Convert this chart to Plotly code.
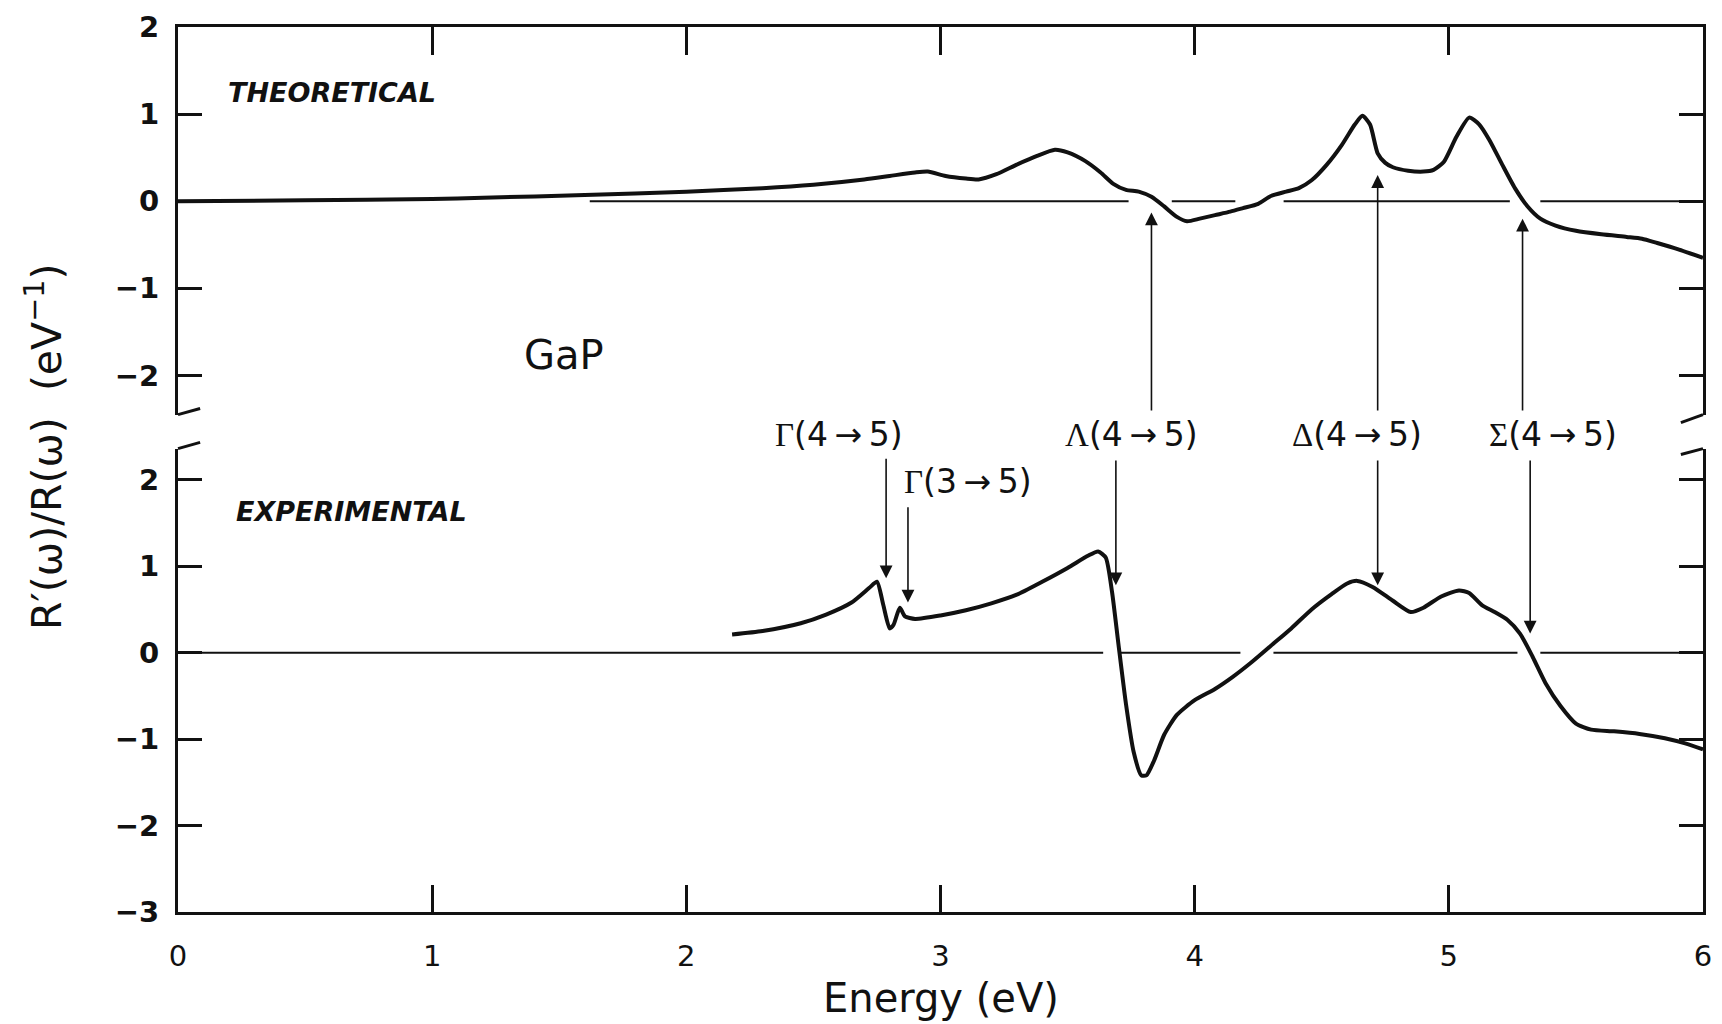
import plotly.graph_objects as go

# ---------------- data ----------------
theo_energy = [0.0, 0.5, 1.0, 1.2, 1.6, 2.0, 2.3, 2.5, 2.7, 2.8, 2.9, 2.95, 3.02, 3.1, 3.15,
               3.22, 3.3, 3.38, 3.45, 3.5, 3.57, 3.63, 3.68, 3.73, 3.78, 3.83, 3.88, 3.93,
               3.97, 4.02, 4.08, 4.14, 4.19, 4.25, 4.30, 4.36, 4.41, 4.46, 4.52, 4.58, 4.63,
               4.66, 4.69, 4.72, 4.75, 4.78, 4.84, 4.90, 4.94, 4.98, 5.03, 5.08, 5.12, 5.16,
               5.21, 5.26, 5.31, 5.36, 5.42, 5.50, 5.60, 5.70, 5.76, 5.82, 5.90, 6.0]
theo_value = [0.0, 0.01, 0.025, 0.04, 0.07, 0.11, 0.15, 0.19, 0.25, 0.29, 0.33, 0.34, 0.29,
              0.26, 0.25, 0.31, 0.42, 0.52, 0.59, 0.56, 0.46, 0.33, 0.2, 0.13, 0.11, 0.05,
              -0.06, -0.18, -0.23, -0.2, -0.16, -0.12, -0.08, -0.03, 0.06, 0.11, 0.15, 0.24,
              0.42, 0.65, 0.88, 0.98, 0.88, 0.55, 0.44, 0.39, 0.35, 0.34, 0.36, 0.45, 0.74,
              0.96, 0.88, 0.70, 0.42, 0.15, -0.06, -0.2, -0.28, -0.34, -0.38, -0.41, -0.43,
              -0.48, -0.55, -0.65]

exp_energy = [2.18, 2.3, 2.45, 2.55, 2.65, 2.72, 2.75, 2.775, 2.80, 2.815, 2.84, 2.86, 2.9,
              3.0, 3.1, 3.2, 3.3, 3.4, 3.5, 3.58, 3.62, 3.65, 3.675, 3.70, 3.73, 3.76, 3.79,
              3.81, 3.84, 3.88, 3.93, 4.0, 4.08, 4.15, 4.22, 4.3, 4.38, 4.46, 4.54, 4.6, 4.64,
              4.7, 4.78, 4.85, 4.9, 4.97, 5.04, 5.08, 5.13, 5.18, 5.23, 5.28, 5.33, 5.38,
              5.44, 5.5, 5.56, 5.65, 5.75, 5.85, 5.93, 6.0]
exp_value = [0.21, 0.25, 0.34, 0.44, 0.58, 0.75, 0.82, 0.55, 0.28, 0.32, 0.52, 0.42, 0.39,
             0.43, 0.49, 0.57, 0.67, 0.82, 0.98, 1.12, 1.17, 1.10, 0.7, 0.1, -0.6, -1.15,
             -1.42, -1.42, -1.25, -0.95, -0.72, -0.55, -0.42, -0.28, -0.12, 0.08, 0.28, 0.5,
             0.68, 0.8, 0.83, 0.76, 0.6, 0.47, 0.52, 0.65, 0.72, 0.69, 0.55, 0.47, 0.38, 0.22,
             -0.05, -0.35, -0.62, -0.82, -0.89, -0.91, -0.94, -0.99, -1.05, -1.12]

# zero reference line segments (start, end) in eV
theo_zero_segments = [(1.62, 3.74), (3.91, 4.16), (4.35, 5.24), (5.36, 6.0)]
exp_zero_segments = [(0.0, 3.64), (3.71, 4.18), (4.31, 5.27), (5.36, 6.0)]

# transitions: label, label energy, label level, arrow energy, head level (exp), tail level
exp_labels = ["Γ|(4→5)", "Γ|(3→5)", "Λ|(4→5)", "Δ|(4→5)", "Σ|(4→5)"]
exp_label_energy = [2.60, 3.11, 3.75, 4.64, 5.41]
exp_label_level = [2.52, 1.98, 2.52, 2.52, 2.52]
exp_arrow_energy = [2.786, 2.872, 3.69, 4.72, 5.32]
exp_arrow_head = [0.86, 0.58, 0.78, 0.78, 0.22]
exp_arrow_tail = [2.26, 1.70, 2.24, 2.24, 2.24]

theo_arrow_energy = [3.83, 4.72, 5.29]
theo_arrow_head = [-0.13, 0.30, -0.20]
theo_arrow_tail = [-2.42, -2.42, -2.42]

x_ticks = [0, 1, 2, 3, 4, 5, 6]
top_y_ticks = [-2, -1, 0, 1, 2]
bot_y_ticks = [-3, -2, -1, 0, 1, 2]

# ---------------- figure ----------------
INK = "#111111"
FONT = "DejaVu Sans"
TOP_DOMAIN = [0.562, 1.0]
TOP_RANGE = [-2.45, 2.0]
BOT_DOMAIN = [0.0, 0.5236]
BOT_RANGE = [-3.0, 2.36]


def tick_text(vals):
    return [("−" + str(-v)) if v < 0 else str(v) for v in vals]


def segs(segments):
    xs, ys = [], []
    for a, b in segments:
        xs += [a, b, None]
        ys += [0, 0, None]
    return xs, ys


def bot_to_paper(v):
    return BOT_DOMAIN[0] + (v - BOT_RANGE[0]) / (BOT_RANGE[1] - BOT_RANGE[0]) * (BOT_DOMAIN[1] - BOT_DOMAIN[0])


fig = go.Figure()

zx, zy = segs(theo_zero_segments)
fig.add_trace(go.Scatter(x=zx, y=zy, xaxis="x2", yaxis="y", mode="lines",
                         line=dict(color=INK, width=2), hoverinfo="skip"))
zx, zy = segs(exp_zero_segments)
fig.add_trace(go.Scatter(x=zx, y=zy, xaxis="x", yaxis="y2", mode="lines",
                         line=dict(color=INK, width=2), hoverinfo="skip"))

fig.add_trace(go.Scatter(x=theo_energy, y=theo_value, xaxis="x2", yaxis="y", mode="lines",
                         line=dict(color=INK, width=4, shape="spline", smoothing=0.6)))
fig.add_trace(go.Scatter(x=exp_energy, y=exp_value, xaxis="x", yaxis="y2", mode="lines",
                         line=dict(color=INK, width=4, shape="spline", smoothing=0.6)))

annotations = []
for lab, le, ll in zip(exp_labels, exp_label_energy, exp_label_level):
    g, rest = lab.split("|")
    rest = rest.replace("→", "\u2009→\u2009")
    annotations.append(dict(
        x=le, y=bot_to_paper(ll), xref="x", yref="paper", showarrow=False,
        text='<span style="font-family:Liberation Serif">' + g + "</span>" + rest,
        font=dict(family=FONT, size=33, color=INK), xanchor="center", yanchor="middle"))

for e, h, t in zip(exp_arrow_energy, exp_arrow_head, exp_arrow_tail):
    annotations.append(dict(x=e, y=h, ax=e, ay=t, xref="x", yref="y2", axref="x", ayref="y2",
                            showarrow=True, arrowhead=2, arrowsize=1.6, arrowwidth=1.6,
                            arrowcolor=INK, text=""))
for e, h, t in zip(theo_arrow_energy, theo_arrow_head, theo_arrow_tail):
    annotations.append(dict(x=e, y=h, ax=e, ay=t, xref="x2", yref="y", axref="x2", ayref="y",
                            showarrow=True, arrowhead=2, arrowsize=1.6, arrowwidth=1.6,
                            arrowcolor=INK, text=""))

annotations += [
    dict(x=0.19, y=1.25, xref="x2", yref="y", text="<i>THEORETICAL</i>", showarrow=False,
         xanchor="left", yanchor="middle",
         font=dict(family=FONT, size=27, color=INK, weight="bold")),
    dict(x=0.22, y=1.63, xref="x", yref="y2", text="<i>EXPERIMENTAL</i>", showarrow=False,
         xanchor="left", yanchor="middle",
         font=dict(family=FONT, size=27, color=INK, weight="bold")),
    dict(x=1.52, y=-1.76, xref="x2", yref="y", text="GaP", showarrow=False,
         xanchor="center", yanchor="middle", font=dict(family=FONT, size=40, color=INK)),
    dict(x=-0.0875, y=0.525, xref="paper", yref="paper", textangle=-90, showarrow=False,
         text="R′(ω)/R(ω)\u00a0\u00a0(eV<sup>−1</sup>)",
         xanchor="center", yanchor="middle", font=dict(family=FONT, size=41, color=INK)),
    dict(x=0.5, y=-0.097, xref="paper", yref="paper", text="Energy (eV)", showarrow=False,
         xanchor="center", yanchor="middle", font=dict(family=FONT, size=40, color=INK)),
]

# axis-break slashes (paper coordinates)
sl_w = 0.0145
slashes = [
    (0.0, TOP_DOMAIN[0], sl_w, TOP_DOMAIN[0] + 0.007),
    (0.0, BOT_DOMAIN[1], sl_w, BOT_DOMAIN[1] + 0.007),
    (1 - sl_w, TOP_DOMAIN[0] - 0.009, 1.0, TOP_DOMAIN[0]),
    (1 - sl_w, BOT_DOMAIN[1] - 0.0066, 1.0, BOT_DOMAIN[1]),
]
shapes = [dict(type="line", xref="paper", yref="paper", x0=a, y0=b, x1=c, y1=d,
               line=dict(color=INK, width=3)) for a, b, c, d in slashes]

axis_common = dict(showgrid=False, zeroline=False, showline=True, linecolor=INK,
                   linewidth=3, ticks="inside", tickcolor=INK, tickwidth=2.5)

fig.update_layout(
    width=1722, height=1024,
    margin=dict(l=178, r=10, t=24, b=112),
    paper_bgcolor="white", plot_bgcolor="white",
    showlegend=False,
    annotations=annotations,
    shapes=shapes,
    xaxis=dict(**axis_common, domain=[0, 1], anchor="y2", range=[0, 6], side="bottom",
               tickvals=x_ticks, ticktext=tick_text(x_ticks), ticklen=27,
               ticklabeloverflow="allow",
               ticklabelstandoff=16, tickfont=dict(family=FONT, size=29, color=INK)),
    xaxis2=dict(**axis_common, domain=[0, 1], anchor="y", range=[0, 6], side="top",
                matches="x", tickvals=x_ticks, showticklabels=False, ticklen=28),
    yaxis=dict(**axis_common, domain=TOP_DOMAIN, anchor="x2", range=TOP_RANGE,
               mirror="ticks", tickvals=top_y_ticks, ticktext=tick_text(top_y_ticks),
               ticklen=24, ticklabelstandoff=10,
               tickfont=dict(family=FONT, size=29, color=INK, weight="bold")),
    yaxis2=dict(**axis_common, domain=BOT_DOMAIN, anchor="x", range=BOT_RANGE,
                mirror="ticks", tickvals=bot_y_ticks, ticktext=tick_text(bot_y_ticks),
                ticklen=24, ticklabelstandoff=10,
                tickfont=dict(family=FONT, size=29, color=INK, weight="bold")),
)

fig.write_html("out.html", config={"displayModeBar": False},
               post_script="document.body.style.margin='0';")
